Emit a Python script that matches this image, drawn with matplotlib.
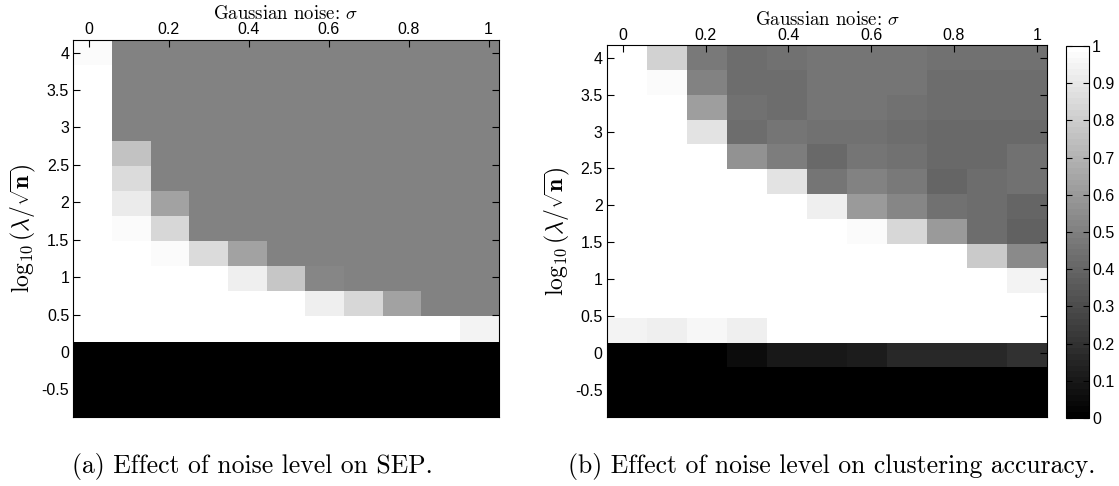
import matplotlib
matplotlib.use('Agg')
import matplotlib.pyplot as plt

plt.rcParams['mathtext.fontset'] = 'cm'
plt.rcParams['font.family'] = ['Liberation Sans', 'DejaVu Sans']

# noise level (column centres) and log10(lambda/sqrt(n)) (row centres, top to bottom)
sigma = [0.01, 0.107, 0.203, 0.300, 0.397, 0.494, 0.590, 0.687, 0.784, 0.880, 0.977]
log_lambda = [4.0, 3.664, 3.329, 2.993, 2.657, 2.321, 1.986, 1.65, 1.314,
              0.979, 0.643, 0.307, -0.029, -0.364, -0.7]

# (a) SEP
sep = [
    [0.97, 0.5, 0.5, 0.5, 0.5, 0.5, 0.5, 0.5, 0.5, 0.5, 0.5],
    [1.0, 0.5, 0.5, 0.5, 0.5, 0.5, 0.5, 0.5, 0.5, 0.5, 0.5],
    [1.0, 0.5, 0.5, 0.5, 0.5, 0.5, 0.5, 0.5, 0.5, 0.5, 0.5],
    [1.0, 0.5, 0.5, 0.5, 0.5, 0.5, 0.5, 0.5, 0.5, 0.5, 0.5],
    [1.0, 0.75, 0.5, 0.5, 0.5, 0.5, 0.5, 0.5, 0.5, 0.5, 0.5],
    [1.0, 0.85, 0.5, 0.5, 0.5, 0.5, 0.5, 0.5, 0.5, 0.5, 0.5],
    [1.0, 0.91, 0.64, 0.5, 0.5, 0.5, 0.5, 0.5, 0.5, 0.5, 0.5],
    [1.0, 0.97, 0.83, 0.5, 0.5, 0.5, 0.5, 0.5, 0.5, 0.5, 0.5],
    [1.0, 1.0, 0.97, 0.85, 0.63, 0.5, 0.5, 0.5, 0.5, 0.5, 0.5],
    [1.0, 1.0, 1.0, 1.0, 0.93, 0.78, 0.53, 0.5, 0.5, 0.5, 0.5],
    [1.0, 1.0, 1.0, 1.0, 1.0, 1.0, 0.93, 0.83, 0.64, 0.5, 0.5],
    [1.0, 1.0, 1.0, 1.0, 1.0, 1.0, 1.0, 1.0, 1.0, 1.0, 0.94],
    [0.0, 0.0, 0.0, 0.0, 0.0, 0.0, 0.0, 0.0, 0.0, 0.0, 0.0],
    [0.0, 0.0, 0.0, 0.0, 0.0, 0.0, 0.0, 0.0, 0.0, 0.0, 0.0],
    [0.0, 0.0, 0.0, 0.0, 0.0, 0.0, 0.0, 0.0, 0.0, 0.0, 0.0],
]

# (b) clustering accuracy
accuracy = [
    [1.0, 0.816, 0.47, 0.424, 0.44, 0.455, 0.455, 0.455, 0.447, 0.447, 0.44],
    [1.0, 0.97, 0.5, 0.424, 0.424, 0.455, 0.455, 0.455, 0.431, 0.431, 0.431],
    [1.0, 1.0, 0.612, 0.44, 0.424, 0.455, 0.455, 0.44, 0.424, 0.424, 0.424],
    [1.0, 1.0, 0.878, 0.424, 0.455, 0.44, 0.44, 0.424, 0.408, 0.408, 0.416],
    [1.0, 1.0, 1.0, 0.565, 0.486, 0.408, 0.455, 0.44, 0.408, 0.408, 0.44],
    [1.0, 1.0, 1.0, 1.0, 0.878, 0.455, 0.5, 0.478, 0.392, 0.424, 0.447],
    [1.0, 1.0, 1.0, 1.0, 1.0, 0.925, 0.596, 0.518, 0.44, 0.424, 0.392],
    [1.0, 1.0, 1.0, 1.0, 1.0, 1.0, 0.97, 0.831, 0.596, 0.424, 0.376],
    [1.0, 1.0, 1.0, 1.0, 1.0, 1.0, 1.0, 1.0, 1.0, 0.784, 0.533],
    [1.0, 1.0, 1.0, 1.0, 1.0, 1.0, 1.0, 1.0, 1.0, 1.0, 0.94],
    [1.0, 1.0, 1.0, 1.0, 1.0, 1.0, 1.0, 1.0, 1.0, 1.0, 1.0],
    [0.94, 0.925, 0.955, 0.925, 1.0, 1.0, 1.0, 1.0, 1.0, 1.0, 1.0],
    [0.0, 0.0, 0.0, 0.05, 0.1, 0.1, 0.11, 0.16, 0.16, 0.17, 0.2],
    [0.0, 0.0, 0.0, 0.0, 0.0, 0.0, 0.0, 0.0, 0.0, 0.0, 0.0],
    [0.0, 0.0, 0.0, 0.0, 0.0, 0.0, 0.0, 0.0, 0.0, 0.0, 0.0],
]

x_ticks = [0, 0.2, 0.4, 0.6, 0.8, 1]
y_ticks = [-0.5, 0, 0.5, 1, 1.5, 2, 2.5, 3, 3.5, 4]
cbar_ticks = [0, 0.1, 0.2, 0.3, 0.4, 0.5, 0.6, 0.7, 0.8, 0.9, 1]

xlabel = r'Gaussian noise: $\sigma$'
ylabel = r'$\log_{10}(\lambda/\sqrt{\mathbf{n}})$'
captions = ['(a) Effect of noise level on SEP.',
            '(b) Effect of noise level on clustering accuracy.']

cmap = plt.get_cmap('gray', 64)
tick_size = 11.5

fig = plt.figure(figsize=(11.19, 4.86), dpi=100)
ax_a = fig.add_axes([0.0655, 0.142, 0.3802, 0.7757])
ax_b = fig.add_axes([0.5423, 0.142, 0.3937, 0.7648])
cax = fig.add_axes([0.9526, 0.140, 0.0208, 0.7654])


def heatmap(ax, values):
    mesh = ax.pcolormesh(sigma, log_lambda, values, cmap=cmap, vmin=0, vmax=1,
                         shading='nearest', edgecolors='none', antialiased=False)
    ax.set_xticks(x_ticks)
    ax.set_xticklabels(['%g' % t for t in x_ticks])
    ax.set_yticks(y_ticks)
    ax.set_yticklabels(['%g' % t for t in y_ticks])
    ax.xaxis.set_label_position('top')
    ax.tick_params(axis='x', top=True, bottom=True, labeltop=True, labelbottom=False,
                   direction='in', length=5, width=0.8, pad=2, labelsize=tick_size)
    ax.tick_params(axis='y', left=True, right=True, direction='in', length=5,
                   width=0.8, pad=3, labelsize=tick_size)
    ax.set_xlabel(xlabel, family='cmr10', fontsize=13.5, labelpad=2)
    for s in ax.spines.values():
        s.set_linewidth(0.8)
    return mesh


heatmap(ax_a, sep)
mesh = heatmap(ax_b, accuracy)

cb = fig.colorbar(mesh, cax=cax, ticks=cbar_ticks)
cb.ax.set_yticklabels(['%g' % t for t in cbar_ticks])
cb.ax.tick_params(direction='in', left=True, right=True, length=4, width=0.8,
                  pad=2, labelsize=tick_size)
cb.outline.set_linewidth(0.8)

fig.text(23 / 1119, 0.530, ylabel, rotation=90, ha='center', va='center', fontsize=17)
fig.text(557 / 1119, 0.525, ylabel, rotation=90, ha='center', va='center', fontsize=17)

fig.text(252 / 1119, 1 - 466 / 486, captions[0], family='cmr10', fontsize=18.5,
         ha='center', va='center')
fig.text(832 / 1119, 1 - 466 / 486, captions[1], family='cmr10', fontsize=18.5,
         ha='center', va='center')

fig.savefig('out.png', dpi=100)
